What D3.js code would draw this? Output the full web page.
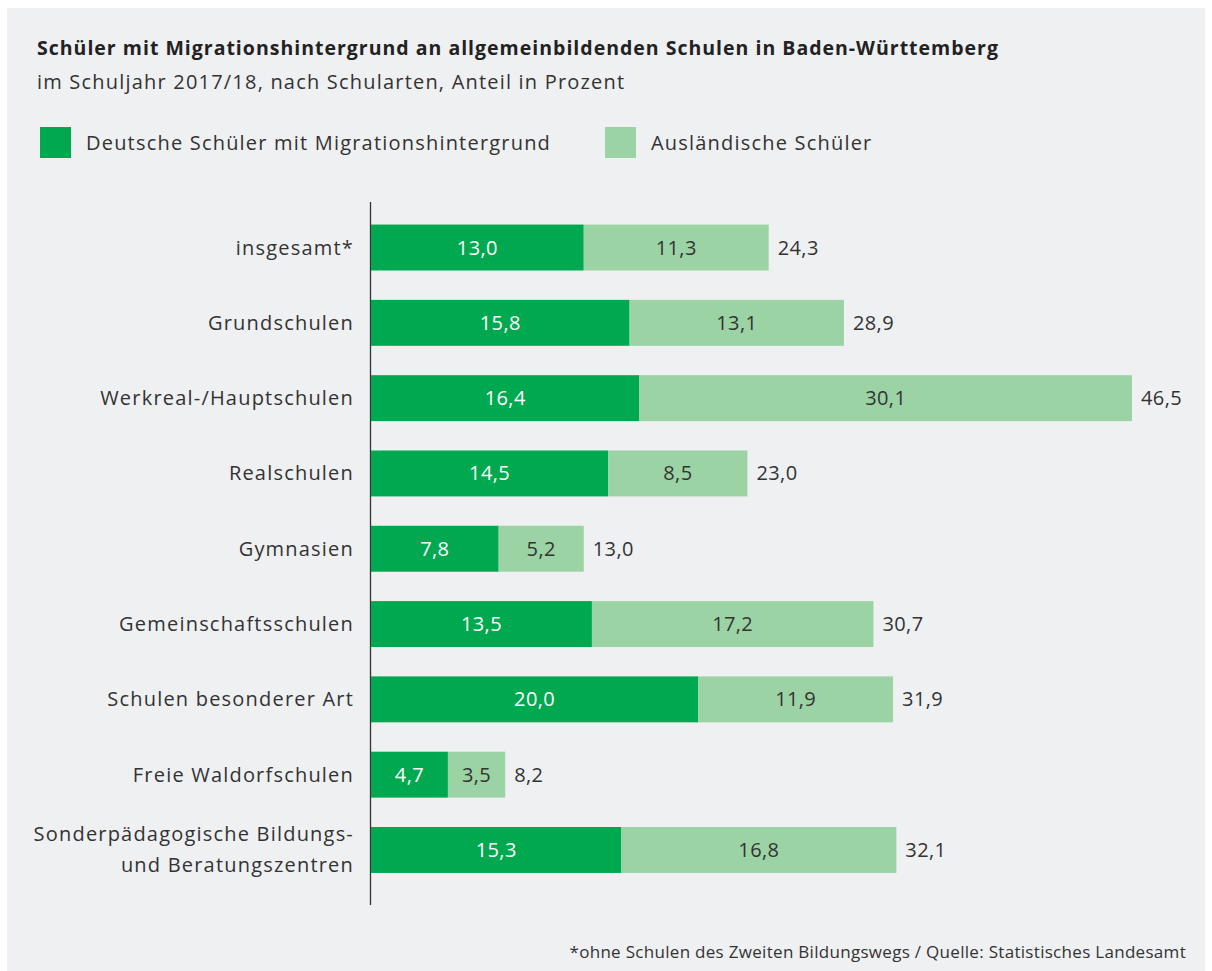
<!DOCTYPE html>
<html>
<head>
<meta charset="utf-8">
<script src="https://cdn.jsdelivr.net/npm/d3@7"></script>
<style>
  body { margin: 0; background: #fff; }
  svg text { font-family: "Open Sans", Lato, sans-serif; fill: #333; }
  .lbl { font-size: 20px; letter-spacing: 1.2px; }
  .num { font-size: 20px; letter-spacing: 0.4px; }
</style>
</head>
<body>
<div id="chart"></div>
<script>
// data
const categories = ["insgesamt*", "Grundschulen", "Werkreal-/Hauptschulen", "Realschulen", "Gymnasien",
    "Gemeinschaftsschulen", "Schulen besonderer Art", "Freie Waldorfschulen",
    "Sonderpädagogische Bildungs-|und Beratungszentren"];
const deutsche = [13.0, 15.8, 16.4, 14.5, 7.8, 13.5, 20.0, 4.7, 15.3];
const auslaender = [11.3, 13.1, 30.1, 8.5, 5.2, 17.2, 11.9, 3.5, 16.8];
const totals = [24.3, 28.9, 46.5, 23.0, 13.0, 30.7, 31.9, 8.2, 32.1];
const seriesNames = ["Deutsche Schüler mit Migrationshintergrund", "Ausländische Schüler"];

const colorDark = "#00a94f";
const colorLight = "#9bd3a5";

const W = 1212, H = 971;
const fmt = v => d3.format(".1f")(v).replace(".", ",");

const svg = d3.select("#chart").append("svg")
    .attr("width", W).attr("height", H);

// panel background
svg.append("rect")
    .attr("x", 7).attr("y", 8)
    .attr("width", 1198).attr("height", H - 8)
    .attr("fill", "#eff0f2");

svg.append("text")
    .attr("x", 37).attr("y", 55)
    .style("font-size", "19.5px").style("font-weight", "bold")
    .style("letter-spacing", "1px")
    .style("fill", "#222")
    .text("Schüler mit Migrationshintergrund an allgemeinbildenden Schulen in Baden-Württemberg");

svg.append("text")
    .attr("class", "lbl")
    .attr("x", 37).attr("y", 89)
    .text("im Schuljahr 2017/18, nach Schularten, Anteil in Prozent");

// legend
const legendX = [40, 605];
const legend = svg.selectAll(".legend").data(seriesNames).join("g")
    .attr("class", "legend")
    .attr("transform", (d, i) => `translate(${legendX[i]}, 127)`);
legend.append("rect")
    .attr("width", 31).attr("height", 31)
    .attr("fill", (d, i) => i == 0 ? colorDark : colorLight);
legend.append("text")
    .attr("class", "lbl")
    .attr("x", 46).attr("y", 23)
    .text(d => d);

// scales
const x = d3.scaleLinear().domain([0, 46.5]).range([371, 1132]);
const y = d3.scaleBand().domain(d3.range(categories.length))
    .range([209.5, 888]).paddingInner(0.39).paddingOuter(0.2);

// axis line
svg.append("line")
    .attr("x1", 370.5).attr("x2", 370.5)
    .attr("y1", 202).attr("y2", 905)
    .attr("stroke", "#333").attr("stroke-width", 1.3);

const rows = svg.selectAll(".row").data(categories).join("g")
    .attr("class", "row");

rows.append("rect")
    .attr("x", x(0))
    .attr("y", (d, i) => y(i))
    .attr("width", (d, i) => x(deutsche[i]) - x(0))
    .attr("height", y.bandwidth())
    .attr("fill", colorDark);

rows.append("rect")
    .attr("x", (d, i) => x(deutsche[i]))
    .attr("y", (d, i) => y(i))
    .attr("width", (d, i) => x(deutsche[i] + auslaender[i]) - x(deutsche[i]))
    .attr("height", y.bandwidth())
    .attr("fill", colorLight);

const mid = i => y(i) + y.bandwidth() / 2;

rows.append("text")
    .attr("class", "num")
    .attr("x", (d, i) => (x(0) + x(deutsche[i])) / 2)
    .attr("y", (d, i) => mid(i))
    .attr("dy", "0.35em")
    .attr("text-anchor", "middle")
    .style("fill", "#fff")
    .text((d, i) => fmt(deutsche[i]));

rows.append("text")
    .attr("class", "num")
    .attr("x", (d, i) => (x(deutsche[i]) + x(deutsche[i] + auslaender[i])) / 2)
    .attr("y", (d, i) => mid(i))
    .attr("dy", "0.35em")
    .attr("text-anchor", "middle")
    .text((d, i) => fmt(auslaender[i]));

rows.append("text")
    .attr("class", "num")
    .attr("x", (d, i) => x(deutsche[i] + auslaender[i]) + 9)
    .attr("y", (d, i) => mid(i))
    .attr("dy", "0.35em")
    .text((d, i) => fmt(totals[i]));

// category labels (| splits into two lines)
rows.append("text")
    .attr("class", "lbl")
    .attr("text-anchor", "end")
    .each(function (d, i) {
        const lines = d.split("|");
        const t = d3.select(this);
        lines.forEach((l, k) => {
            t.append("tspan")
                .attr("x", 354)
                .attr("y", mid(i) + (k - (lines.length - 1) / 2) * 31)
                .attr("dy", "0.35em")
                .text(l);
        });
    });

svg.append("text")
    .attr("x", 1186).attr("y", 958)
    .attr("text-anchor", "end")
    .style("font-size", "17px")
    .style("letter-spacing", "0.3px")
    .text("*ohne Schulen des Zweiten Bildungswegs / Quelle: Statistisches Landesamt");
</script>
</body>
</html>
